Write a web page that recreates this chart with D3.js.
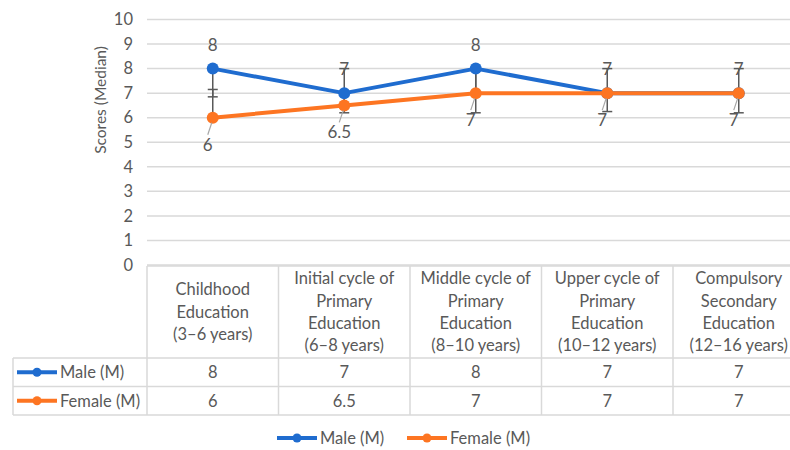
<!DOCTYPE html>
<html>
<head>
<meta charset="utf-8">
<script src="https://cdn.jsdelivr.net/npm/d3@7"></script>
<style>
  body { margin: 0; background: #fff; }
  svg text { font-family: Lato, "Open Sans", sans-serif; fill: #595959; }
</style>
</head>
<body>
<svg id="chart" width="790" height="450"></svg>
<script>
// data
const categories = [
  ["Childhood", "Education", "(3\u20136 years)"],
  ["Initial cycle of", "Primary", "Education", "(6\u20138 years)"],
  ["Middle cycle of", "Primary", "Education", "(8\u201310 years)"],
  ["Upper cycle of", "Primary", "Education", "(10\u201312 years)"],
  ["Compulsory", "Secondary", "Education", "(12\u201316 years)"]
];
const maleValues = [8, 7, 8, 7, 7];
const femaleValues = [6, 6.5, 7, 7, 7];
const maleLow = [6.85, 6.2, 6.2, 6.25, 6.2];   // lower error bar ends
const femaleHigh = [7.15, 8, 8, 8, 8];         // upper error bar ends
const yTicks = [0, 1, 2, 3, 4, 5, 6, 7, 8, 9, 10];

const series = [
  { name: "Male (M)", values: maleValues, color: "#1f6ccf", labelDy: -24 },
  { name: "Female (M)", values: femaleValues, color: "#fd7522", labelDy: 27 }
];

const svg = d3.select("#chart");
const fs = 16.5;

const colW = 131.5;
const left = 147;
const x = d3.scaleBand().domain(d3.range(categories.length)).range([left, left + colW * categories.length]);
const y = d3.scaleLinear().domain([0, 10]).range([265, 19.5]);
const cx = i => x(i) + x.bandwidth() / 2;

// gridlines
svg.append("g").selectAll("line").data(yTicks).join("line")
  .attr("x1", left).attr("x2", 790)
  .attr("y1", d => y(d)).attr("y2", d => y(d))
  .attr("stroke", "#d9d9d9").attr("stroke-width", 1.5);

// y tick labels
svg.append("g").selectAll("text").data(yTicks).join("text")
  .attr("x", 133).attr("y", d => y(d)).attr("dy", "0.35em")
  .attr("text-anchor", "end").attr("font-size", fs).text(d => d);

// y axis title
svg.append("text")
  .attr("transform", "translate(101,100) rotate(-90)")
  .attr("text-anchor", "middle").attr("dy", "0.35em")
  .attr("font-size", 15.5).text("Scores (Median)");

// error bars
const errs = [];
maleValues.forEach((v, i) => errs.push({ i, from: v, to: maleLow[i] }));
femaleValues.forEach((v, i) => errs.push({ i, from: v, to: femaleHigh[i] }));
const eg = svg.append("g").attr("stroke", "#595959").attr("stroke-width", 1.5);
eg.selectAll("line.v").data(errs).join("line").attr("class", "v")
  .attr("x1", d => cx(d.i)).attr("x2", d => cx(d.i))
  .attr("y1", d => y(d.from)).attr("y2", d => y(d.to));
eg.selectAll("line.c").data(errs).join("line").attr("class", "c")
  .attr("x1", d => cx(d.i) - 5).attr("x2", d => cx(d.i) + 5)
  .attr("y1", d => y(d.to)).attr("y2", d => y(d.to));

// lines and markers
const line = d3.line().x((d, i) => cx(i)).y(d => y(d));
series.forEach(s => {
  svg.append("path").datum(s.values)
    .attr("d", line).attr("fill", "none")
    .attr("stroke", s.color).attr("stroke-width", 4).attr("stroke-linejoin", "round");
  svg.append("g").selectAll("circle").data(s.values).join("circle")
    .attr("cx", (d, i) => cx(i)).attr("cy", d => y(d)).attr("r", 6)
    .attr("fill", s.color);
});

// leader lines for female labels
svg.append("g").selectAll("line").data(femaleValues).join("line")
  .attr("x1", (d, i) => cx(i) - 5).attr("y1", d => y(d) + 17)
  .attr("x2", (d, i) => cx(i) - 1).attr("y2", d => y(d) + 5)
  .attr("stroke", "#a6a6a6").attr("stroke-width", 1.2);

// data labels
series.forEach(s => {
  svg.append("g").selectAll("text").data(s.values).join("text")
    .attr("x", (d, i) => cx(i) - (s.labelDy > 0 ? 5 : 0))
    .attr("y", d => y(d) + s.labelDy).attr("dy", "0.35em")
    .attr("text-anchor", "middle").attr("font-size", 17).text(d => d);
});

// data table
const tTop = 266, hBottom = 358, rowH = 28.5;
const tRight = left + colW * categories.length;
const tg = svg.append("g").attr("stroke", "#d9d9d9").attr("stroke-width", 1.5);
tg.append("line").attr("x1", left).attr("x2", tRight).attr("y1", tTop).attr("y2", tTop);
[0, 1, 2].forEach(r => {
  const yy = hBottom + r * rowH;
  tg.append("line").attr("x1", 13).attr("x2", tRight).attr("y1", yy).attr("y2", yy);
});
tg.selectAll("line.col").data(d3.range(categories.length + 1)).join("line").attr("class", "col")
  .attr("x1", d => left + d * colW).attr("x2", d => left + d * colW)
  .attr("y1", tTop).attr("y2", hBottom + 2 * rowH);
tg.append("line").attr("x1", 13).attr("x2", 13).attr("y1", hBottom).attr("y2", hBottom + 2 * rowH);

// header text
const lineH = 22.4;
categories.forEach((lines, i) => {
  const mid = (tTop + hBottom) / 2;
  const start = mid - (lines.length - 1) * lineH / 2;
  const t = svg.append("text").attr("text-anchor", "middle").attr("font-size", fs);
  lines.forEach((l, k) => {
    t.append("tspan").attr("x", cx(i)).attr("y", start + k * lineH).attr("dy", "0.35em").text(l);
  });
});

// table rows
series.forEach((s, r) => {
  const yc = hBottom + r * rowH + rowH / 2;
  svg.append("line").attr("x1", 17).attr("x2", 57).attr("y1", yc).attr("y2", yc)
    .attr("stroke", s.color).attr("stroke-width", 4);
  svg.append("circle").attr("cx", 37).attr("cy", yc).attr("r", 4.5).attr("fill", s.color);
  svg.append("text").attr("x", 60).attr("y", yc).attr("dy", "0.35em")
    .attr("font-size", fs).text(s.name);
  svg.append("g").selectAll("text").data(s.values).join("text")
    .attr("x", (d, i) => cx(i)).attr("y", yc).attr("dy", "0.35em")
    .attr("text-anchor", "middle").attr("font-size", fs).text(d => d);
});

// legend
const legendX = [277, 407];
series.forEach((s, k) => {
  const lx = legendX[k], ly = 438;
  svg.append("line").attr("x1", lx).attr("x2", lx + 40).attr("y1", ly).attr("y2", ly)
    .attr("stroke", s.color).attr("stroke-width", 4);
  svg.append("circle").attr("cx", lx + 20).attr("cy", ly).attr("r", 4.5).attr("fill", s.color);
  svg.append("text").attr("x", lx + 43).attr("y", ly).attr("dy", "0.35em")
    .attr("font-size", fs).text(s.name);
});
</script>
</body>
</html>
